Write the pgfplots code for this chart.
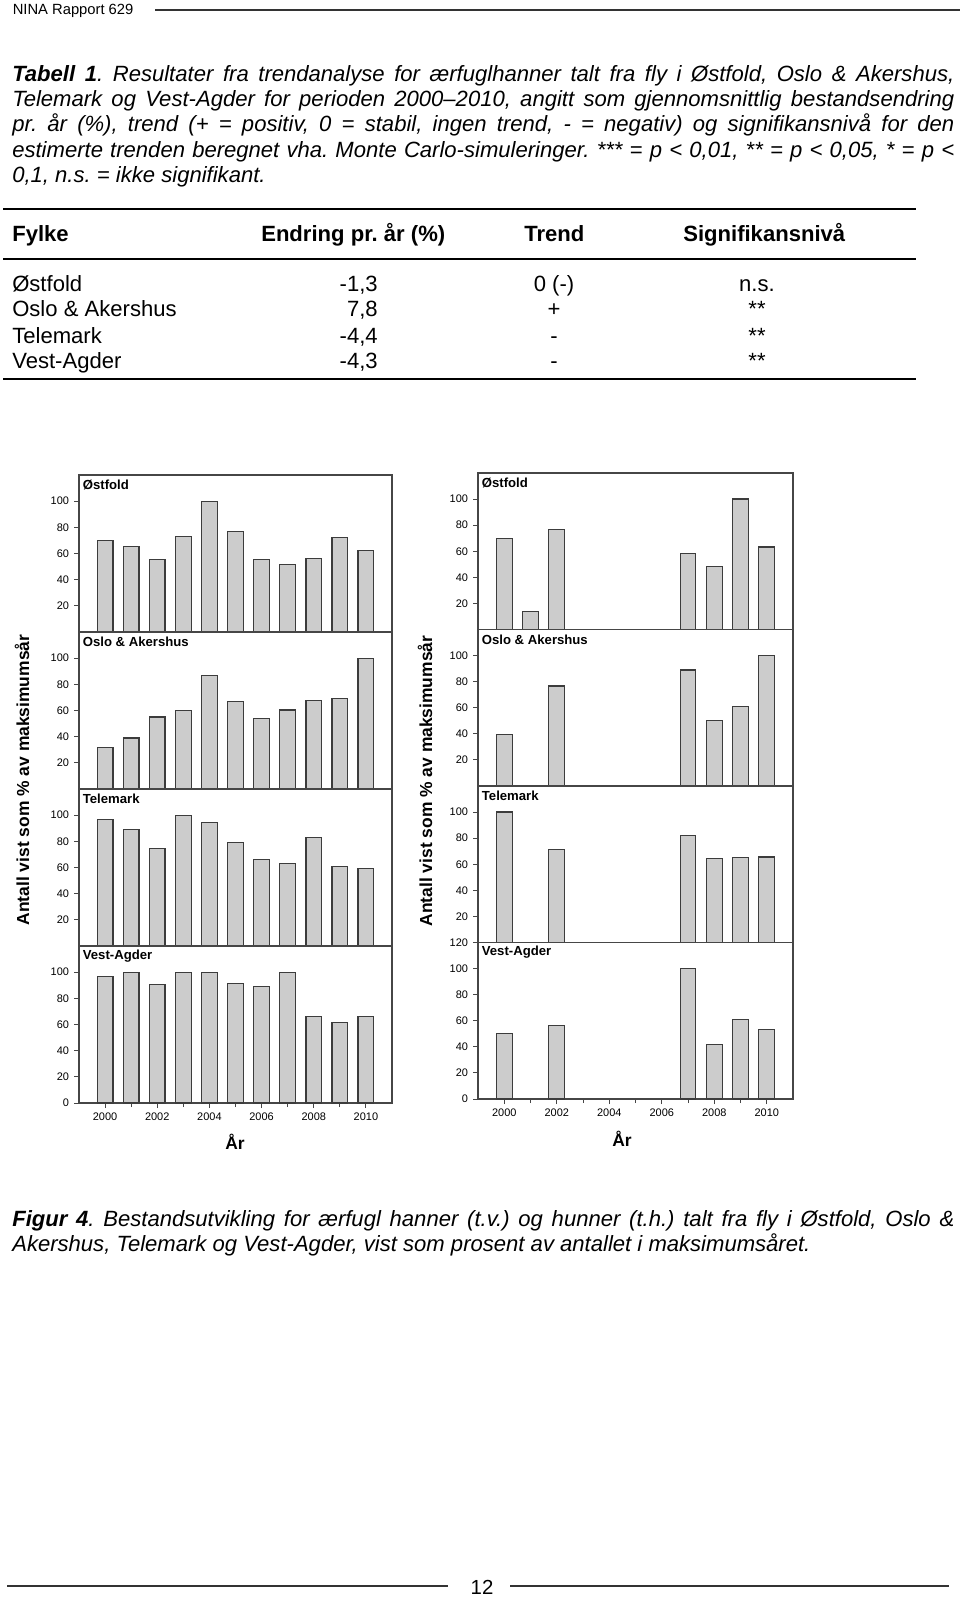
\documentclass[border=0pt]{standalone}
\usepackage{fontspec}
\setmainfont{Liberation Sans}
\usepackage{pgfplots}
\pgfplotsset{compat=1.18}

\definecolor{barfill}{RGB}{204,204,204}
\definecolor{bardraw}{RGB}{60,60,60}
\definecolor{framecol}{RGB}{70,70,70}

\newcommand{\capfont}{\fontsize{15.7pt}{18.07pt}\selectfont}
\newcommand{\tickfont}{\fontsize{7.8pt}{9pt}\selectfont}
\newcommand{\panelfont}{\fontsize{9.35pt}{11pt}\selectfont\bfseries}
\newcommand{\labfont}{\fontsize{12.4pt}{14pt}\selectfont\bfseries}

\tikzset{ptitle/.style={anchor=west, font=\panelfont, inner sep=0, xshift=0.9mm, yshift=-2.5mm}}

\pgfplotsset{
  panel/.style={
    scale only axis, width=78.25mm, height=39.25mm,
    anchor=south west,
    xmin=1999, xmax=2011, ymin=0, ymax=120,
    axis line style={draw=framecol, line width=0.3mm},
    tick style={draw=framecol, line width=0.25mm},
    tick align=outside, major tick length=1.25mm, minor tick length=1mm,
    xtick pos=bottom, ytick pos=left,
    xtick=\empty, ytick={20,40,60,80,100},
    ticklabel style={font=\tickfont},
    /pgf/number format/assume math mode=true,
    /pgf/number format/1000 sep={},
    ybar, bar width=0.6,
    clip=false,
  },
  rpanel/.style={panel, width=78.75mm, height=39.125mm},
  bottompanel/.style={
    xtick={2000,2002,...,2010}, minor xtick={2001,2003,...,2009},
    ytick={0,20,...,100},
  },
  bars/.style={fill=barfill, draw=bardraw, line width=0.3mm},
}

\begin{document}
\frenchspacing
\begin{tikzpicture}
\begin{scope}[x=0.25mm, y=-0.25mm]
\path[use as bounding box] (0,0) rectangle (960,1597);

% page header
\node[anchor=mid west, inner sep=0, font=\fontsize{10.5pt}{12pt}\selectfont] at (12.5,11) {NINA Rapport 629};
\draw[line width=0.4mm, black!80] (155,10) -- (960,10);

% table caption
\node[anchor=base west, inner sep=0, text width=235.5mm, align=justify, font=\capfont\itshape] at (12,81)
{\textbf{Tabell 1}. Resultater fra trendanalyse for ærfuglhanner talt fra fly i Østfold, Oslo \& Akershus,\linebreak
Telemark og Vest-Agder for perioden 2000–2010, angitt som gjennomsnittlig bestandsendring\linebreak
pr. år (\%), trend (+ = positiv, 0 = stabil, ingen trend, - = negativ) og signifikansnivå for den\linebreak
estimerte trenden beregnet vha. Monte Carlo-simuleringer. *** = p < 0,01, ** = p < 0,05, * = p <\linebreak
0,1, n.s. = ikke signifikant.};

% table
\draw[line width=0.45mm] (3,209) -- (916,209);
\draw[line width=0.45mm] (3,259) -- (916,259);
\draw[line width=0.45mm] (3,379) -- (916,379);
\begin{scope}[every node/.style={inner sep=0, font=\capfont}]
\node[anchor=mid west, font=\capfont\bfseries] at (12,238) {Fylke};
\node[anchor=mid west, font=\capfont\bfseries] at (261,238) {Endring pr. år (\%)};
\node[anchor=mid west, font=\capfont\bfseries] at (524,238) {Trend};
\node[anchor=mid west, font=\capfont\bfseries] at (683,238) {Signifikansnivå};
\node[anchor=mid west] at (12,288) {Østfold};
\node[anchor=mid west] at (12,313) {Oslo \& Akershus};
\node[anchor=mid west] at (12,340) {Telemark};
\node[anchor=mid west] at (12,365) {Vest-Agder};
\node[anchor=mid east] at (378,288) {-1,3};
\node[anchor=mid east] at (378,313) {7,8};
\node[anchor=mid east] at (378,340) {-4,4};
\node[anchor=mid east] at (378,365) {-4,3};
\node[anchor=mid] at (554,288) {0 (-)};
\node[anchor=mid] at (554,313) {+};
\node[anchor=mid] at (554,340) {-};
\node[anchor=mid] at (554,365) {-};
\node[anchor=mid] at (757,288) {n.s.};
\node[anchor=mid] at (757,313) {**};
\node[anchor=mid] at (757,340) {**};
\node[anchor=mid] at (757,365) {**};
\end{scope}

% axis labels
\node[rotate=90, font=\labfont] at (22,780) {Antall vist som \% av maksimumsår};
\node[rotate=90, font=\labfont] at (425,781) {Antall vist som \% av maksimumsår};
\node[font=\labfont] at (235,1142) {År};
\node[font=\labfont] at (622,1139) {År};

% figure caption
\node[anchor=base west, inner sep=0, text width=235.5mm, align=justify, font=\capfont\itshape] at (12,1226)
{\textbf{Figur 4}. Bestandsutvikling for ærfugl hanner (t.v.) og hunner (t.h.) talt fra fly i Østfold, Oslo \&\linebreak
Akershus, Telemark og Vest-Agder, vist som prosent av antallet i maksimumsåret.};

% footer
\draw[line width=0.4mm, black!80] (7,1586) -- (448,1586);
\draw[line width=0.4mm, black!80] (510,1586) -- (949,1586);
\node[font=\fontsize{14.5pt}{16pt}\selectfont, inner sep=0] at (482,1587) {12};

% anchors of the panels
\coordinate (L1) at (79,632);
\coordinate (L2) at (79,789);
\coordinate (L3) at (79,946);
\coordinate (L4) at (79,1103);
\coordinate (R1) at (478,629.5);
\coordinate (R2) at (478,786);
\coordinate (R3) at (478,942.5);
\coordinate (R4) at (478,1099);
\end{scope}

% ---- hanner (left) ----
\begin{axis}[panel, at={(L1)}]
\addplot[bars] coordinates {(2000,70.2) (2001,65.4) (2002,55.5) (2003,73) (2004,100) (2005,76.6) (2006,55.5) (2007,51.4) (2008,56) (2009,72.5) (2010,62.3)};
\node[ptitle] at (rel axis cs:0,1) {Østfold};
\end{axis}
\begin{axis}[panel, at={(L2)}]
\addplot[bars] coordinates {(2000,31.5) (2001,39) (2002,55) (2003,60) (2004,87) (2005,66.8) (2006,53.7) (2007,60.4) (2008,67.5) (2009,69) (2010,100)};
\node[ptitle] at (rel axis cs:0,1) {Oslo \& Akershus};
\end{axis}
\begin{axis}[panel, at={(L3)}]
\addplot[bars] coordinates {(2000,97) (2001,89) (2002,74.3) (2003,100) (2004,94.4) (2005,78.9) (2006,66.1) (2007,62.8) (2008,82.9) (2009,60.5) (2010,59.2)};
\node[ptitle] at (rel axis cs:0,1) {Telemark};
\end{axis}
\begin{axis}[panel, bottompanel, at={(L4)}]
\addplot[bars] coordinates {(2000,96.7) (2001,99.5) (2002,90.3) (2003,100) (2004,100) (2005,91.6) (2006,89.3) (2007,100) (2008,66) (2009,61.5) (2010,66)};
\node[ptitle] at (rel axis cs:0,1) {Vest-Agder};
\end{axis}

% ---- hunner (right) ----
\begin{axis}[rpanel, at={(R1)}]
\addplot[bars] coordinates {(2000,69.7) (2001,14.1) (2002,76.9) (2007,58.5) (2008,48.5) (2009,100) (2010,63.3)};
\node[ptitle] at (rel axis cs:0,1) {Østfold};
\end{axis}
\begin{axis}[rpanel, at={(R2)}]
\addplot[bars] coordinates {(2000,39.2) (2002,76.7) (2007,89) (2008,50.5) (2009,61) (2010,100)};
\node[ptitle] at (rel axis cs:0,1) {Oslo \& Akershus};
\end{axis}
\begin{axis}[rpanel, at={(R3)}]
\addplot[bars] coordinates {(2000,100) (2002,71.6) (2007,82.1) (2008,64.4) (2009,65.2) (2010,65.5)};
\node[ptitle] at (rel axis cs:0,1) {Telemark};
\end{axis}
\begin{axis}[rpanel, bottompanel, ytick={0,20,...,120}, at={(R4)}]
\addplot[bars] coordinates {(2000,50.3) (2002,56.4) (2007,100) (2008,41.8) (2009,61.2) (2010,53)};
\node[ptitle] at (rel axis cs:0,1) {Vest-Agder};
\end{axis}
\end{tikzpicture}
\end{document}
